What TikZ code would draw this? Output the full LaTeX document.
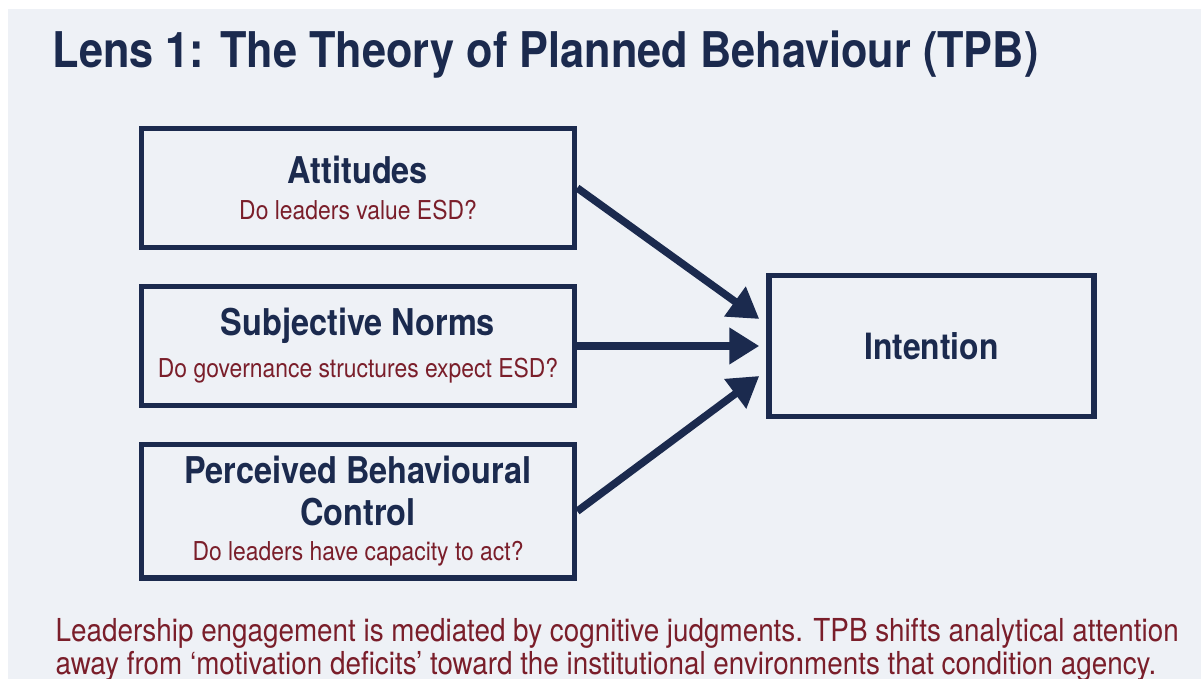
\documentclass[tikz,border=0pt]{standalone}
\usepackage{fontspec}
\setmainfont{TeX Gyre Heros}[FakeStretch=0.88]
\usetikzlibrary{positioning, arrows.meta}
\definecolor{navy}{RGB}{27,42,78}
\definecolor{wine}{RGB}{122,30,42}
\definecolor{paper}{RGB}{238,241,246}
\tikzset{
    >={Triangle[length=0.3cm, width=0.35cm]}, % big solid heads as on the slide
    factor/.style={draw=navy, line width=0.055cm, minimum width=4.33cm, minimum height=1.19cm, align=center, inner sep=0pt}, % the three boxes on the left
    target/.style={factor, minimum width=3.25cm, minimum height=1.41cm}, % the box they point to
    flow/.style={->, color=navy, line width=0.075cm}, % connectors
    node distance=0.335cm, % gap between the stacked boxes
}
\newcommand{\headfont}{\fontsize{10.5}{12.2}\selectfont\bfseries\color{navy}}
\newcommand{\askfont}{\fontsize{7.4}{9}\selectfont\color{wine}}

\begin{document}
\begin{tikzpicture}
    \useasboundingbox (0,0) rectangle (12.01,6.79);
    \fill[paper] (0.08,0) rectangle (12.01,6.70);
    % title
    \node[anchor=base west, inner sep=0pt, font=\fontsize{14}{16}\selectfont\bfseries, text=navy] (title) at (0.52,6.11) {Lens 1: The Theory of Planned Behaviour (TPB)};
    % the three determinants
    \node[factor] (att) at (3.58,4.91) {{\headfont Attitudes}\\[-2pt]{\askfont Do leaders value ESD?}};
    \node[factor, below=of att] (sub) {{\headfont Subjective Norms}\\[0pt]{\askfont Do governance structures expect ESD?}};
    \node[factor, minimum height=1.335cm, below=of sub] (pbc) {{\headfont Perceived Behavioural}\\{\headfont Control}\\[-2pt]{\askfont Do leaders have capacity to act?}};
    \node[target, right=1.89cm of sub] (int) {\fontsize{10.3}{12}\selectfont\bfseries\color{navy}Intention};
    \path[flow]
    (att.east) edge ([xshift=-0.07cm, yshift=0.27cm]int.west)
    (sub.east) edge ([xshift=-0.07cm]int.west)
    (pbc.east) edge ([xshift=-0.07cm, yshift=-0.30cm]int.west);
    % closing remark, close to the lower edge of the slide
    \node[anchor=north west, inner sep=0pt, align=left, font=\fontsize{9}{9.1}\selectfont, text=wine] (note) at (0.55,0.61) {Leadership engagement is mediated by cognitive judgments. TPB shifts analytical attention\\[0.3pt]away from ‘motivation deficits’ toward the institutional environments that condition agency.};
\end{tikzpicture}
\end{document}
